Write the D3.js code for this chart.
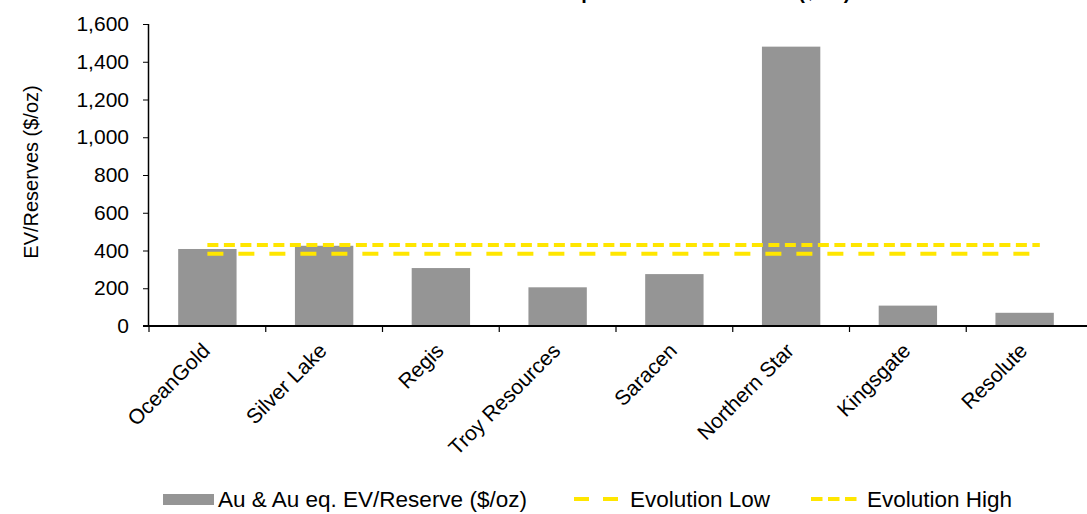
<!DOCTYPE html>
<html>
<head>
<meta charset="utf-8">
<script src="https://cdn.jsdelivr.net/npm/d3@7"></script>
<style>
  html, body { margin: 0; padding: 0; background: #fff; }
  svg { display: block; font-family: "Liberation Sans", Arial, sans-serif; }
</style>
</head>
<body>
<svg id="chart" width="1087" height="514"></svg>
<script>
// Peer EV/Reserve values, $/oz
const categories = ["OceanGold", "Silver Lake", "Regis", "Troy Resources", "Saracen", "Northern Star", "Kingsgate", "Resolute"];
const evReserve = [408, 425, 307, 205, 275, 1480, 108, 70];
const evolutionLow = 383;
const evolutionHigh = 429;
const yTicks = [0, 200, 400, 600, 800, 1000, 1200, 1400, 1600];
const legendLabels = ["Au & Au eq. EV/Reserve ($/oz)", "Evolution Low", "Evolution High"];
const chartTitle = "Peer Comparison - EV/Reserves ($/oz)";
const yTitle = "EV/Reserves ($/oz)";

const barColor = "#959595";
const yellow = "#FFE600";
const fontSize = 21;
const legendFontSize = 22.5;

const svg = d3.select("#chart");
const plot = { left: 148, right: 1083, top: 24, bottom: 326 };

const x = d3.scaleBand()
  .domain(categories)
  .range([plot.left + 1, plot.right])
  .paddingInner(0.5)
  .paddingOuter(0.25);

const y = d3.scaleLinear()
  .domain([0, 1600])
  .range([plot.bottom, plot.top]);

// title (sits at the very top edge)
svg.append("text")
  .attr("x", 488)
  .attr("y", -1.5)
  .attr("font-size", 20)
  .attr("font-weight", "bold")
  .attr("fill", "#000")
  .text(chartTitle);

// bars
svg.append("g")
  .selectAll("rect")
  .data(categories)
  .join("rect")
  .attr("x", d => x(d))
  .attr("width", x.bandwidth())
  .attr("y", (d, i) => y(evReserve[i]))
  .attr("height", (d, i) => y(0) - y(evReserve[i]))
  .attr("fill", barColor);

// reference lines
const lineStart = x(categories[0]) + x.bandwidth() / 2;
const lineEnd = x(categories[categories.length - 1]) + x.bandwidth() / 2 + x.step() * 0.13;

svg.append("line")
  .attr("x1", lineStart).attr("x2", lineEnd)
  .attr("y1", y(evolutionHigh)).attr("y2", y(evolutionHigh))
  .attr("stroke", yellow).attr("stroke-width", 4)
  .attr("stroke-dasharray", "11,5.5");

svg.append("line")
  .attr("x1", lineStart).attr("x2", lineEnd)
  .attr("y1", y(evolutionLow)).attr("y2", y(evolutionLow))
  .attr("stroke", yellow).attr("stroke-width", 4)
  .attr("stroke-dasharray", "16,15");

// y axis
const yAxis = svg.append("g")
  .attr("transform", `translate(${plot.left},0)`)
  .call(d3.axisLeft(y).tickValues(yTicks).tickFormat(d3.format(",")).tickSize(5).tickPadding(14));
yAxis.select(".domain").attr("stroke", "#000").attr("stroke-width", 1.5).attr("d", `M0.5,${plot.top}V${plot.bottom}`);
yAxis.selectAll(".tick line").attr("stroke", "#000").attr("stroke-width", 1);
yAxis.selectAll(".tick text")
  .attr("font-size", fontSize)
  .attr("font-family", "Liberation Sans, Arial, sans-serif")
  .attr("fill", "#000");

// x axis: boundary ticks between categories
const xAxis = svg.append("g").attr("transform", `translate(0,${plot.bottom})`);
xAxis.append("line")
  .attr("x1", plot.left - 5).attr("x2", 1087)
  .attr("y1", 0).attr("y2", 0)
  .attr("stroke", "#000").attr("stroke-width", 2);
const edges = categories.map(c => x(c) - (x.step() - x.bandwidth()) / 2);
xAxis.selectAll("line.edge")
  .data(edges)
  .join("line")
  .attr("class", "edge")
  .attr("x1", d => d).attr("x2", d => d)
  .attr("y1", 0).attr("y2", 6)
  .attr("stroke", "#000").attr("stroke-width", 1.2);

// category labels, rotated
xAxis.selectAll("text.cat")
  .data(categories)
  .join("text")
  .attr("class", "cat")
  .attr("font-size", fontSize)
  .attr("fill", "#000")
  .attr("text-anchor", "end")
  .attr("transform", d => `translate(${x(d) + x.bandwidth() / 2 + 4},${26}) rotate(-45)`)
  .text(d => d);

// y axis title
svg.append("text")
  .attr("transform", `translate(38,172) rotate(-90)`)
  .attr("text-anchor", "middle")
  .attr("font-size", 20)
  .attr("fill", "#000")
  .text(yTitle);

// legend
const legend = svg.append("g").attr("font-size", legendFontSize).attr("fill", "#000");
const legY = 499;
legend.append("rect")
  .attr("x", 163).attr("y", legY - 5).attr("width", 51).attr("height", 11)
  .attr("fill", barColor);
legend.append("text").attr("x", 218).attr("y", legY + 8).text(legendLabels[0]);

legend.append("line")
  .attr("x1", 574).attr("x2", 618).attr("y1", legY).attr("y2", legY)
  .attr("stroke", yellow).attr("stroke-width", 4).attr("stroke-dasharray", "15,14");
legend.append("text").attr("x", 630).attr("y", legY + 8).text(legendLabels[1]);

legend.append("line")
  .attr("x1", 811).attr("x2", 857).attr("y1", legY).attr("y2", legY)
  .attr("stroke", yellow).attr("stroke-width", 4).attr("stroke-dasharray", "11.5,5.5");
legend.append("text").attr("x", 867).attr("y", legY + 8).text(legendLabels[2]);
</script>
</body>
</html>
